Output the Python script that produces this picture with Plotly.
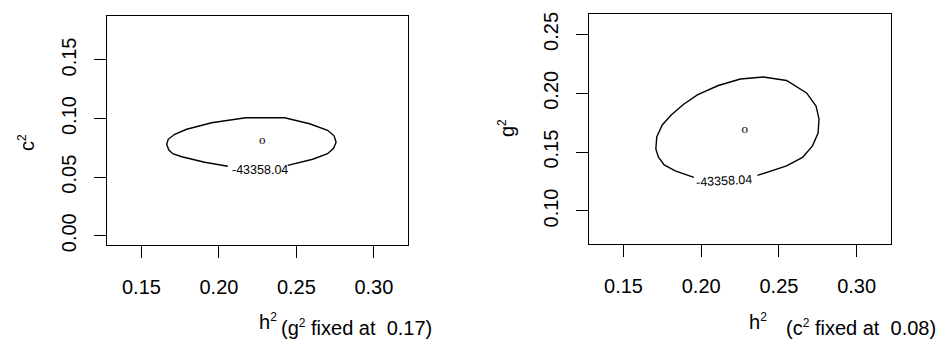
import plotly.graph_objects as go

# ---------------- data ----------------
# contour (level -43358.04); gap left for the label
h2_left = [0.2444, 0.2605, 0.2701, 0.2740, 0.2756, 0.2743, 0.2701, 0.2585, 0.2424,
           0.2173, 0.1953, 0.1792, 0.1715, 0.1673, 0.1663, 0.1676, 0.1702, 0.1760,
           0.1908, 0.2057]
c2_left = [0.0601, 0.0653, 0.0700, 0.0746, 0.0798, 0.0853, 0.0900, 0.0956, 0.1007,
           0.1007, 0.0964, 0.0909, 0.0866, 0.0823, 0.0781, 0.0734, 0.0700, 0.0674,
           0.0627, 0.0593]

h2_right = [0.2362, 0.2549, 0.2652, 0.2716, 0.2752, 0.2758, 0.2739, 0.2678, 0.2549,
            0.2400, 0.2252, 0.2110, 0.1975, 0.1885, 0.1807, 0.1749, 0.1714, 0.1708,
            0.1724, 0.1762, 0.1833, 0.1953]
g2_right = [0.1302, 0.1383, 0.1455, 0.1553, 0.1663, 0.1782, 0.1892, 0.2003, 0.2109,
            0.2138, 0.2121, 0.2066, 0.1986, 0.1905, 0.1816, 0.1731, 0.1629, 0.1527,
            0.1459, 0.1391, 0.1340, 0.1285]

mle_h2 = [0.228]
mle_c2 = [0.081]
mle_g2 = [0.169]
contour_level = "-43358.04"
fixed_g2 = "0.17"
fixed_c2 = "0.08"

x_ticks = [0.15, 0.20, 0.25, 0.30]
y_ticks_left = [0.00, 0.05, 0.10, 0.15]
y_ticks_right = [0.10, 0.15, 0.20, 0.25]
x_range = [0.1276, 0.3218]
y_range_left = [-0.0079, 0.1878]
y_range_right = [0.0717, 0.2672]

# ---------------- figure ----------------
W, H = 946, 345
FONT = "Liberation Sans, Arial, sans-serif"


def px(x):
    return x / W


def py(y):
    return 1 - y / H


SUP2 = "<sup><span style='font-size:12px'>2</span></sup>"

fig = go.Figure()

fig.add_trace(go.Scatter(x=h2_left, y=c2_left, mode="lines",
                         line=dict(color="black", width=1.4),
                         xaxis="x", yaxis="y", hoverinfo="skip"))
fig.add_trace(go.Scatter(x=mle_h2, y=mle_c2, mode="text", text=["o"],
                         textfont=dict(family="Liberation Serif, serif", size=13, color="#000000"),
                         xaxis="x", yaxis="y", hoverinfo="skip"))
fig.add_trace(go.Scatter(x=h2_right, y=g2_right, mode="lines",
                         line=dict(color="black", width=1.4),
                         xaxis="x2", yaxis="y2", hoverinfo="skip"))
fig.add_trace(go.Scatter(x=mle_h2, y=mle_g2, mode="text", text=["o"],
                         textfont=dict(family="Liberation Serif, serif", size=13, color="#000000"),
                         xaxis="x2", yaxis="y2", hoverinfo="skip"))

axis_common = dict(showgrid=False, zeroline=False, showline=True, mirror=True,
                   linecolor="black", linewidth=1, ticks="outside", ticklen=12,
                   tickwidth=1, tickcolor="black", automargin=False,
                   tickfont=dict(family=FONT, size=20, color="black"))

fig.update_layout(
    width=W, height=H,
    margin=dict(l=0, r=0, t=0, b=0, pad=0),
    paper_bgcolor="white", plot_bgcolor="white",
    showlegend=False,
    xaxis=dict(axis_common, domain=[px(106.7), px(407.7)], range=x_range,
               tickvals=x_ticks, ticktext=[f"{v:.2f}" for v in x_ticks],
               anchor="y", ticklabelstandoff=12),
    yaxis=dict(axis_common, domain=[py(245), py(15.7)], range=y_range_left,
               tickvals=y_ticks_left, ticktext=[f"{v:.2f}" for v in y_ticks_left],
               tickangle=-90, anchor="x", ticklabelstandoff=10),
    xaxis2=dict(axis_common, domain=[px(588.7), px(890.5)], range=x_range,
                tickvals=x_ticks, ticktext=[f"{v:.2f}" for v in x_ticks],
                anchor="y2", ticklabelstandoff=12),
    yaxis2=dict(axis_common, domain=[py(244.3), py(14.2)], range=y_range_right,
                tickvals=y_ticks_right, ticktext=[f"{v:.2f}" for v in y_ticks_right],
                tickangle=-90, anchor="x2", ticklabelstandoff=10),
)

txt = dict(family=FONT, size=20, color="black")
ann = [
    # contour labels
    dict(x=0.2263, y=0.0565, xref="x", yref="y", text=contour_level, showarrow=False,
         font=dict(family=FONT, size=12.5, color="black")),
    dict(x=0.2145, y=0.1258, xref="x2", yref="y2", text=contour_level, showarrow=False,
         textangle=-3, font=dict(family=FONT, size=12.5, color="black")),
    # x titles
    dict(x=px(257), y=py(321), xref="paper", yref="paper", xanchor="left", yanchor="middle",
         text="h" + SUP2, showarrow=False, font=txt),
    dict(x=px(279), y=py(327), xref="paper", yref="paper", xanchor="left", yanchor="middle",
         text="(g" + SUP2 + " fixed at&nbsp; " + fixed_g2 + ")", showarrow=False, font=txt),
    dict(x=px(747), y=py(321), xref="paper", yref="paper", xanchor="left", yanchor="middle",
         text="h" + SUP2, showarrow=False, font=txt),
    dict(x=px(784), y=py(327), xref="paper", yref="paper", xanchor="left", yanchor="middle",
         text="(c" + SUP2 + " fixed at&nbsp; " + fixed_c2 + ")", showarrow=False, font=txt),
    # y titles
    dict(x=px(26), y=py(143), xref="paper", yref="paper", xanchor="center", yanchor="middle",
         text="c" + SUP2, textangle=-90, showarrow=False, font=txt),
    dict(x=px(506), y=py(128), xref="paper", yref="paper", xanchor="center", yanchor="middle",
         text="g" + SUP2, textangle=-90, showarrow=False, font=txt),
]
fig.update_layout(annotations=ann)

fig.write_html("out.html",
               config={"displayModeBar": False, "staticPlot": True},
               post_script="document.body.style.margin='0';document.body.style.padding='0';"
                           "document.body.style.overflow='hidden';")
